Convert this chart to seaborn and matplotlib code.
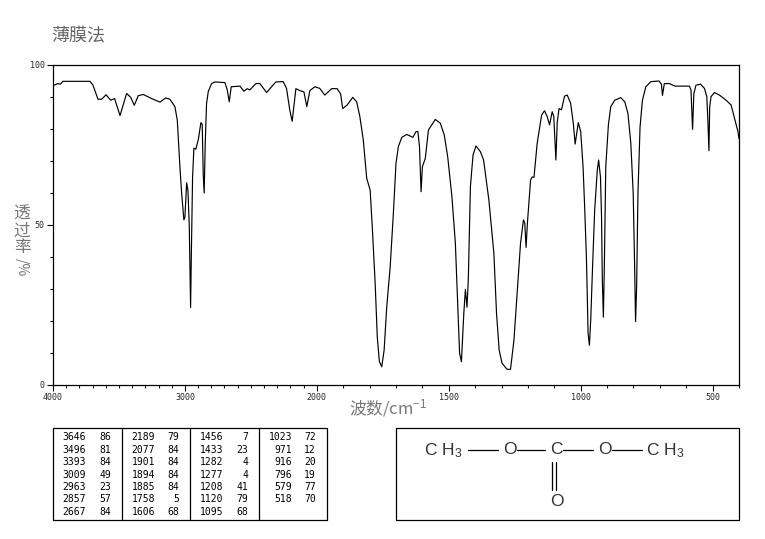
import numpy as np
import pandas as pd
import matplotlib
matplotlib.use("Agg")
import matplotlib.pyplot as plt
from matplotlib.ticker import FixedLocator, FixedFormatter
import seaborn as sns

# spectrum
wavenumber = [4000, 3985, 3965, 3945, 3925, 3720, 3697, 3659, 3631, 3598, 3563, 3533, 3492, 3442, 3411, 3384,
              3354, 3316, 3252, 3189, 3146, 3114, 3076, 3058, 3038, 3025, 3008, 3000, 2987, 2977, 2967, 2957,
              2952, 2942, 2932, 2917, 2897, 2879, 2869, 2861, 2854, 2846, 2836, 2823, 2798, 2773, 2697, 2679,
              2664, 2649, 2583, 2553, 2528, 2508, 2462, 2432, 2381, 2311, 2255, 2230, 2205, 2187, 2174, 2159,
              2129, 2098, 2076, 2053, 2015, 1989, 1970, 1944, 1923, 1910, 1902, 1885, 1864, 1849, 1837, 1824,
              1811, 1798, 1790, 1779, 1771, 1763, 1754, 1745, 1735, 1722, 1710, 1700, 1691, 1678, 1659, 1636,
              1624, 1617, 1611, 1605, 1600, 1589, 1577, 1551, 1532, 1517, 1504, 1488, 1475, 1466, 1459, 1452,
              1443, 1437, 1431, 1426, 1418, 1408, 1397, 1380, 1368, 1348, 1329, 1319, 1309, 1298, 1279, 1266,
              1253, 1241, 1228, 1217, 1212, 1207, 1202, 1190, 1184, 1177, 1165, 1148, 1137, 1127, 1118, 1108,
              1102, 1094, 1089, 1082, 1073, 1061, 1051, 1038, 1028, 1021, 1015, 1009, 1000, 991, 985, 978,
              972, 967, 962, 955, 947, 937, 932, 925, 921, 918, 914, 910, 905, 895, 886, 871,
              848, 833, 821, 810, 801, 796, 792, 788, 783, 775, 766, 753, 734, 703, 694, 690,
              683, 664, 643, 588, 582, 576, 571, 563, 546, 531, 522, 518, 514, 511, 506, 493,
              474, 449, 430, 417, 404, 400]
transmittance = [93.6, 93.8, 94.2, 94.0, 94.9, 94.9, 93.7, 89.3, 89.3, 90.7, 89.0, 89.5, 84.2, 91.1, 89.9, 87.4,
                 90.4, 90.8, 89.5, 88.4, 89.7, 89.3, 87.0, 82.8, 68.2, 60.0, 51.6, 52.5, 63.2, 60.7, 49.5, 24.2,
                 39.0, 65.0, 74.0, 73.7, 77.0, 82.0, 81.5, 65.6, 60.0, 75.6, 88.0, 91.7, 94.2, 94.7, 94.5, 92.2,
                 88.5, 93.2, 93.4, 91.8, 92.6, 92.2, 94.2, 94.2, 91.4, 94.7, 94.8, 92.7, 85.9, 82.4, 87.0, 92.6,
                 92.0, 91.6, 87.0, 92.0, 93.2, 92.7, 90.6, 92.6, 92.6, 91.0, 86.4, 87.5, 89.9, 88.5, 83.9, 76.6,
                 64.6, 60.9, 49.5, 31.8, 15.1, 7.3, 5.7, 10.9, 24.5, 37.0, 53.6, 69.3, 74.5, 77.4, 78.3, 77.4,
                 79.2, 79.2, 74.5, 60.4, 68.2, 70.8, 79.7, 83.0, 81.8, 78.1, 71.3, 58.8, 44.3, 24.5, 9.9, 7.3,
                 22.4, 29.9, 24.3, 32.8, 62.0, 71.9, 74.7, 72.9, 70.3, 57.8, 41.1, 22.4, 10.9, 6.8, 4.9, 4.9,
                 14.0, 28.6, 44.3, 51.6, 50.6, 43.0, 50.5, 64.0, 65.0, 64.9, 75.5, 84.4, 85.7, 83.9, 81.3, 85.4,
                 83.9, 70.3, 82.0, 86.4, 86.0, 90.3, 90.6, 88.0, 81.8, 75.3, 78.6, 82.0, 79.2, 68.2, 55.7, 39.0,
                 16.2, 12.4, 20.3, 37.0, 54.7, 67.2, 70.3, 65.0, 52.6, 32.8, 21.2, 39.0, 68.2, 81.3, 87.0, 89.0,
                 89.8, 88.5, 84.9, 75.5, 59.9, 39.0, 19.8, 30.7, 59.9, 80.7, 89.0, 93.2, 94.8, 95.0, 94.0, 90.5,
                 94.2, 94.2, 93.4, 93.4, 92.2, 79.9, 91.1, 93.7, 94.0, 92.7, 90.1, 82.8, 73.2, 87.0, 90.1, 91.4,
                 90.6, 89.0, 87.5, 83.3, 79.2, 77.0]

# peak table, one list per block
peak_wn_1 = ["3646", "3496", "3393", "3009", "2963", "2857", "2667"]
peak_t_1 = ["86", "81", "84", "49", "23", "57", "84"]
peak_wn_2 = ["2189", "2077", "1901", "1894", "1885", "1758", "1606"]
peak_t_2 = ["79", "84", "84", "84", "84", "5", "68"]
peak_wn_3 = ["1456", "1433", "1282", "1277", "1208", "1120", "1095"]
peak_t_3 = ["7", "23", "4", "4", "41", "79", "68"]
peak_wn_4 = ["1023", "971", "916", "796", "579", "518"]
peak_t_4 = ["72", "12", "20", "19", "77", "70"]

x_major = [4000, 3000, 2000, 1500, 1000, 500]
x_labels = ["4000", "3000", "2000", "1500", "1000", "500"]
y_major = [0, 50, 100]
y_labels = ["0", "50", "100"]

GRAY = "#777777"
CJK = ["Noto Sans CJK SC", "DejaVu Sans"]

sns.set_style("white")
plt.rcParams["mathtext.default"] = "regular"
plt.rcParams["font.family"] = CJK

W, H = 765, 539
fig = plt.figure(figsize=(W / 100, H / 100), dpi=100)
ax = fig.add_axes([53 / W, 1 - 385 / H, 686 / W, 320 / H])


# the x axis is twice as compressed above 2000 cm-1
def forward(w):
    w = np.asarray(w, dtype=float)
    return np.where(w <= 2000, w, 2000 + (w - 2000) * 0.5)


def inverse(v):
    v = np.asarray(v, dtype=float)
    return np.where(v <= 2000, v, 2000 + (v - 2000) * 2)


df = pd.DataFrame({"wn": wavenumber, "t": transmittance})
sns.lineplot(data=df, x="wn", y="t", ax=ax, sort=False, estimator=None, color="black", linewidth=0.85)

ax.set_xscale("function", functions=(forward, inverse))
ax.set_xlim(4000, 400)
ax.set_ylim(0, 100)
ax.xaxis.set_major_locator(FixedLocator(x_major))
ax.xaxis.set_major_formatter(FixedFormatter(x_labels))
ax.xaxis.set_minor_locator(FixedLocator(np.arange(400, 4000, 100)))
ax.yaxis.set_major_locator(FixedLocator(y_major))
ax.yaxis.set_major_formatter(FixedFormatter(y_labels))
ax.yaxis.set_minor_locator(FixedLocator(np.arange(0, 100, 10)))
ax.tick_params(which="major", length=4, width=0.8, labelsize=6, pad=2, color="black", bottom=True, left=True)
ax.tick_params(which="minor", length=2, width=0.8, color="black", bottom=True, left=True)
ax.set_xlabel("")
ax.set_ylabel("")
for s in ax.spines.values():
    s.set_color("black")
    s.set_linewidth(0.9)
for lab in ax.get_xticklabels() + ax.get_yticklabels():
    lab.set_family("DejaVu Sans Mono")

# overlay in pixel coordinates for the title, labels, table and structure
pg = fig.add_axes([0, 0, 1, 1], facecolor="none")
pg.set_xlim(0, W)
pg.set_ylim(H, 0)
pg.axis("off")

pg.text(51, 36, "薄膜法", fontsize=13, color="#666666", va="center", ha="left")
pg.text(22, 231, "透\n过\n率", fontsize=12, color=GRAY, va="center", ha="center", linespacing=0.95)
pg.text(22, 267, "/%", fontsize=10, color=GRAY, va="center", ha="center", rotation=270)
pg.text(388, 408, "波数/cm$^{-1}$", fontsize=12, color=GRAY, va="center", ha="center")


def box(x0, y0, x1, y1):
    pg.plot([x0, x1, x1, x0, x0], [y0, y0, y1, y1, y0], color="black", lw=0.9)


# peak table
box(53, 428, 327, 520)
for x in [122.5, 190.5, 259.5]:
    pg.plot([x, x], [428, 520], color="black", lw=0.9)
blocks = [(peak_wn_1, peak_t_1, 86, 111), (peak_wn_2, peak_t_2, 155, 179),
          (peak_wn_3, peak_t_3, 223, 248), (peak_wn_4, peak_t_4, 292, 316)]
for wns, ts, x_w, x_t in blocks:
    for i, (w, t) in enumerate(zip(wns, ts)):
        y = 437.5 + i * 12.35
        pg.text(x_w, y, w, fontsize=7, family="DejaVu Sans Mono", ha="right", va="center", color="black")
        pg.text(x_t, y, t, fontsize=7, family="DejaVu Sans Mono", ha="right", va="center", color="black")

# structure of dimethyl carbonate
box(396, 428, 739, 520)
chem = dict(fontsize=12.5, family="Liberation Sans", color="#333333", va="center")
pg.text(424, 451, "C H$_3$", ha="left", **chem)
pg.text(510, 450, "O", ha="center", **chem)
pg.text(556.5, 450, "C", ha="center", **chem)
pg.text(605, 450, "O", ha="center", **chem)
pg.text(646, 451, "C H$_3$", ha="left", **chem)
pg.text(556.5, 501, "O", ha="center", **chem)
for x0, x1 in [(468, 498), (517, 545), (563, 593), (612, 642)]:
    pg.plot([x0, x1], [450, 450], color="black", lw=0.9)
for x in [552.5, 556]:
    pg.plot([x, x], [462, 490], color="black", lw=0.9)

fig.savefig("out.png", dpi=100, facecolor="white")
